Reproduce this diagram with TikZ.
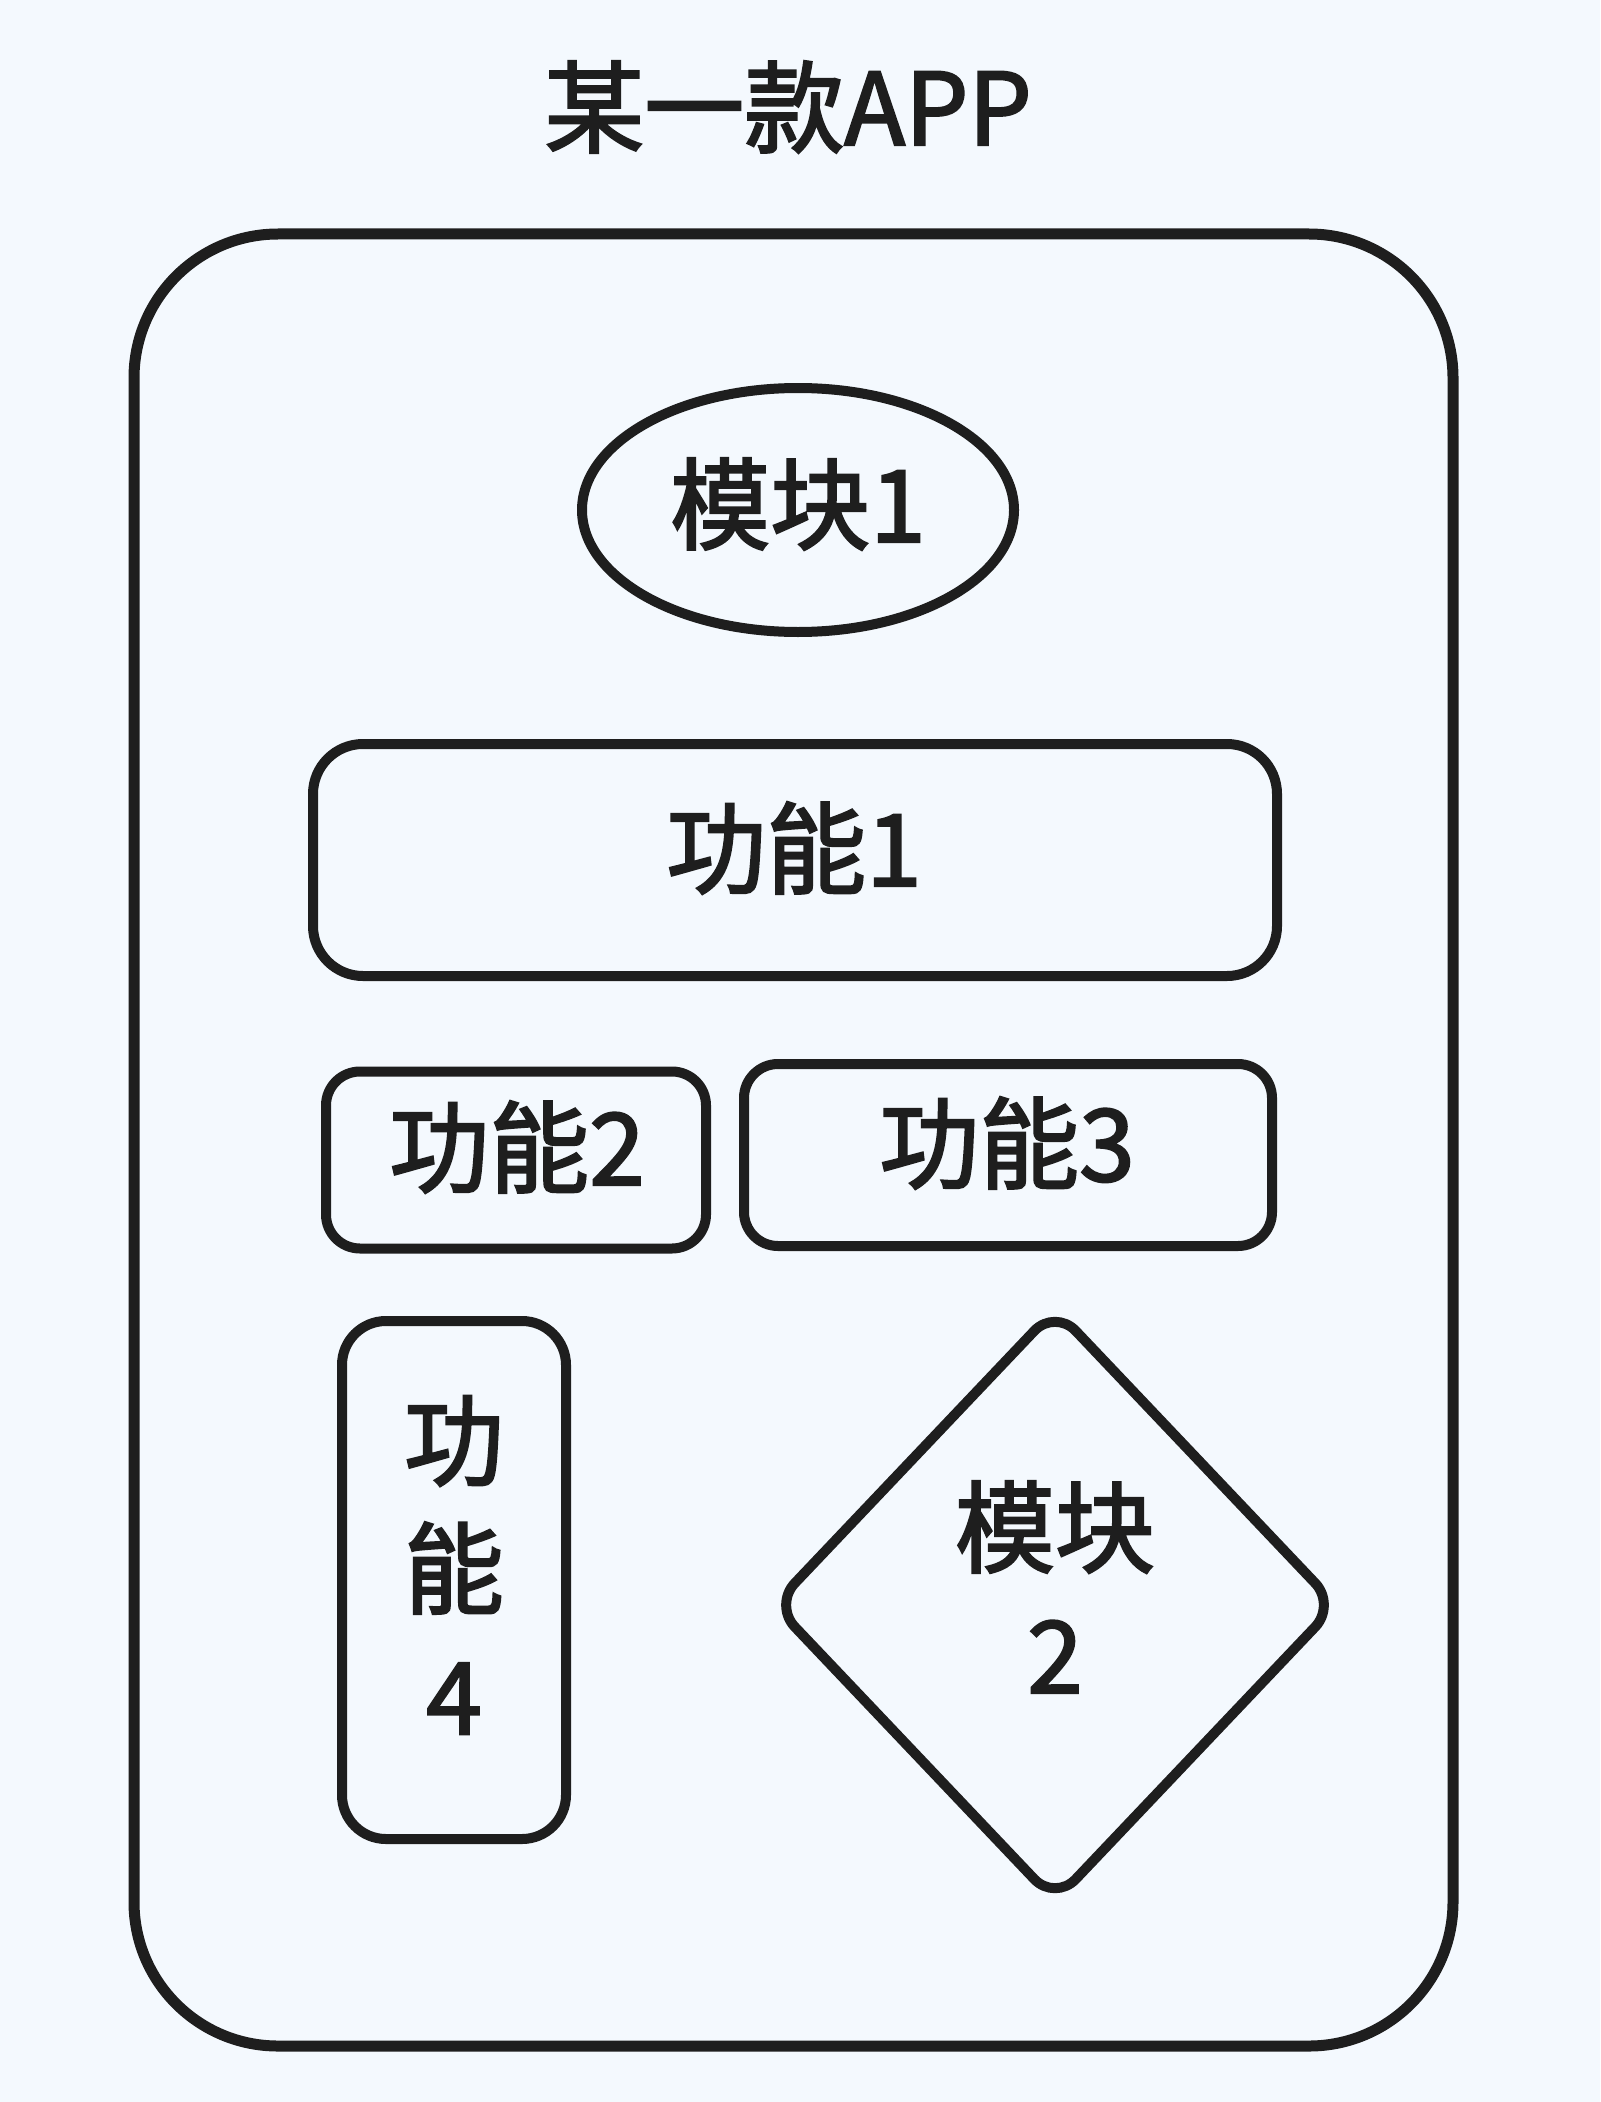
\documentclass[tikz,border=0pt]{standalone}
\usepackage{fontspec}
\setmainfont{Noto Sans CJK SC}[RawFeature={embolden=2.2}]
\usetikzlibrary{shapes.geometric}
\definecolor{bgc}{HTML}{F4F9FE}
\definecolor{ink}{HTML}{1E1E1E}
\newcommand{\lblfont}{\fontsize{50pt}{64pt}\selectfont}
\begin{document}
\begin{tikzpicture}[x=0.5pt,y=-0.5pt,
  shapebox/.style={draw=ink, line width=5pt, inner sep=0pt},
  roundbox/.style={shapebox, rectangle, rounded corners=#1},
  roundbox/.default=17pt,
  lbl/.style={text=ink, font=\lblfont, align=center, inner sep=0pt}
]
\fill[bgc] (0,0) rectangle (1600,2102);
\useasboundingbox (0,0) rectangle (1600,2102);

\node[lbl] (title) at (788,107) {某一款APP};

\node[roundbox=72pt, line width=5.5pt, minimum width=659.5pt, minimum height=906pt] (app) at (793.5,1140) {};

\node[shapebox, ellipse, minimum width=216pt, minimum height=122pt] (m1) at (798,510) {};
\node[lbl] (m1t) at (798,504) {模块1};

\node[roundbox=25pt, minimum width=482pt, minimum height=116pt] (f1) at (795,860) {};
\node[lbl] (f1t) at (794,848) {功能1};

\node[roundbox=17pt, minimum width=190pt, minimum height=88.5pt] (f2) at (516,1160) {};
\node[lbl] (f2t) at (517,1147) {功能2};

\node[roundbox=17pt, minimum width=264pt, minimum height=91pt] (f3) at (1008,1155) {};
\node[lbl] (f3t) at (1007,1143) {功能3};

\node[roundbox=22pt, minimum width=112pt, minimum height=259pt] (f4) at (454,1580) {};
\node[lbl] (f4t) at (454,1565) {功\\能\\4};

\node[shapebox, diamond, rounded corners=15pt, minimum width=283pt, minimum height=298pt] (m2) at (1055,1605) {};
\node[lbl] (m2t) at (1055,1587) {模块\\2};
\end{tikzpicture}
\end{document}
